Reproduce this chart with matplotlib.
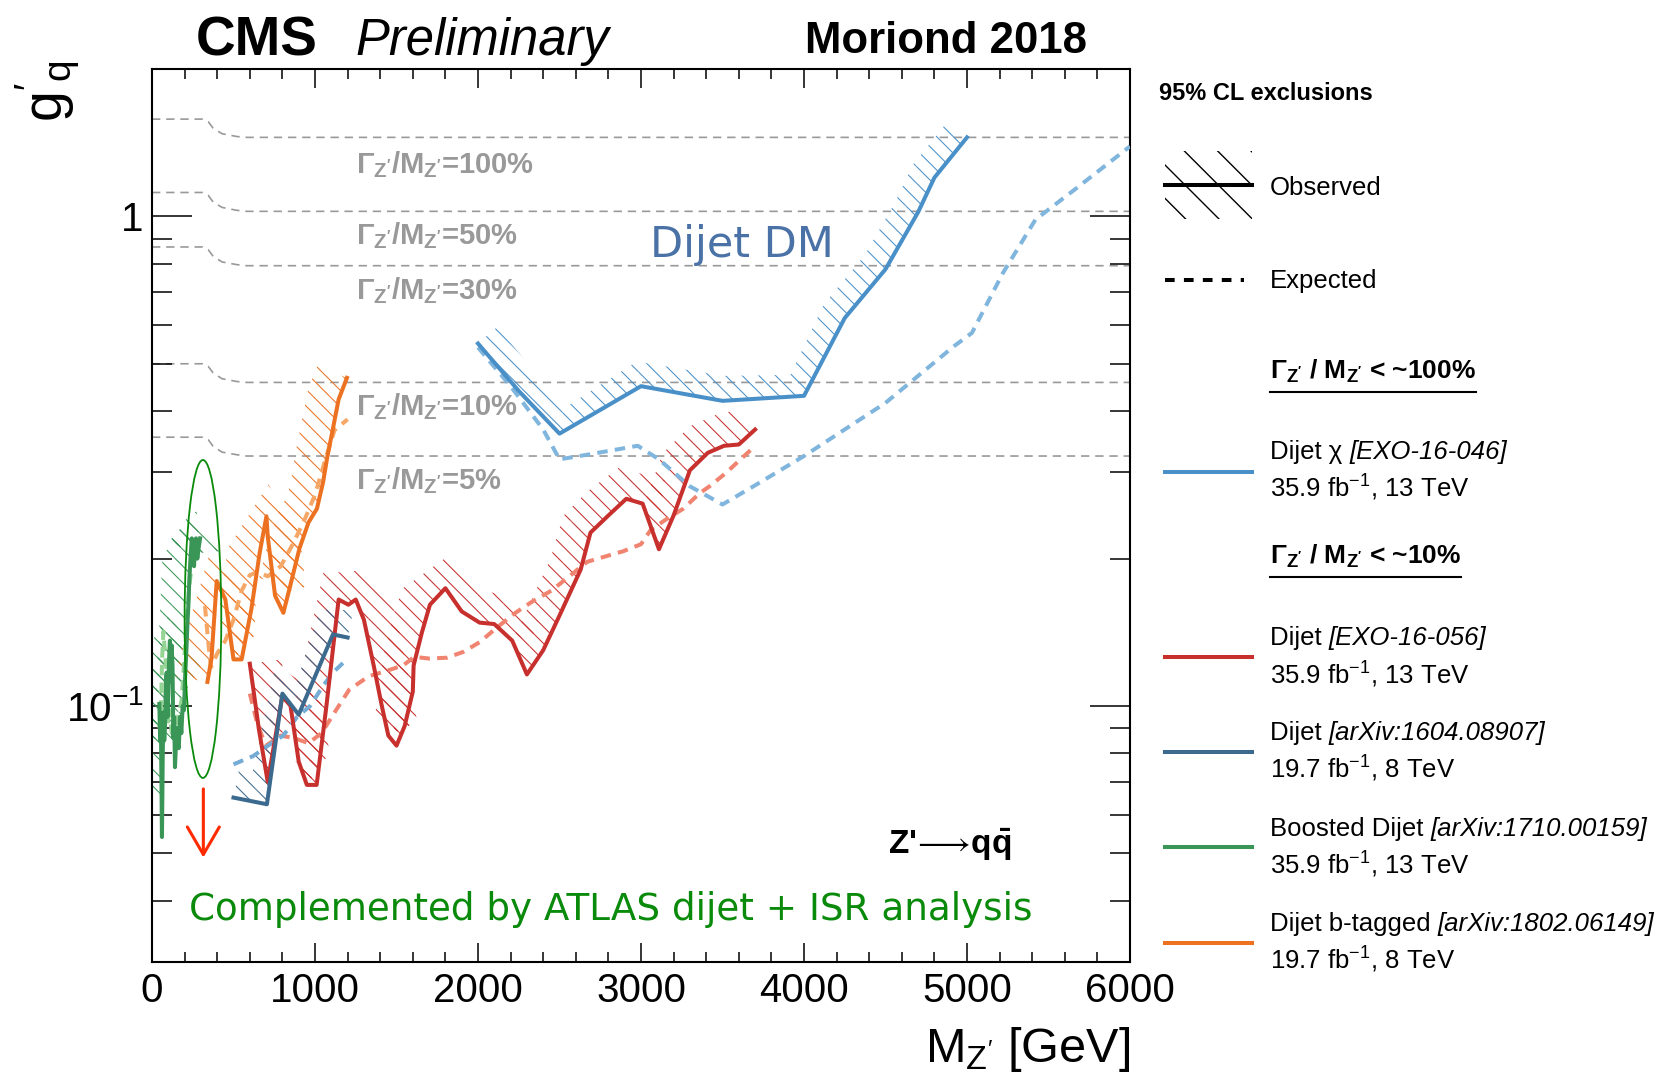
import numpy as np
import matplotlib
matplotlib.use("Agg")
import matplotlib.pyplot as plt
from matplotlib.ticker import MultipleLocator, LogLocator, NullFormatter
from matplotlib.collections import PolyCollection
from matplotlib.patches import Ellipse, Rectangle
from matplotlib.lines import Line2D

plt.rcParams["font.family"] = ["Liberation Sans", "DejaVu Sans"]
plt.rcParams["mathtext.fontset"] = "custom"
plt.rcParams["mathtext.rm"] = "Liberation Sans"
plt.rcParams["mathtext.it"] = "Liberation Sans:italic"
plt.rcParams["mathtext.bf"] = "Liberation Sans:bold"
plt.rcParams["mathtext.default"] = "regular"
plt.rcParams["hatch.linewidth"] = 0.75

W, H = 1660, 1077

# ---- width reference lines (Gamma/M)
width_m = [0, 310, 345, 375, 430, 520, 580, 6000]
width_100 = [1.58, 1.58, 1.561, 1.514, 1.475, 1.456, 1.45, 1.45]
width_50 = [1.119, 1.119, 1.104, 1.070, 1.043, 1.029, 1.024, 1.024]
width_30 = [0.866, 0.866, 0.855, 0.829, 0.807, 0.797, 0.793, 0.793]
width_10 = [0.50, 0.50, 0.494, 0.479, 0.466, 0.460, 0.458, 0.458]
width_5 = [0.354, 0.354, 0.350, 0.339, 0.330, 0.326, 0.324, 0.324]
width_names = ["100%", "50%", "30%", "10%", "5%"]

# ---- Dijet chi [EXO-16-046]
chi_obs_m = [2000, 2250, 2500, 3000, 3500, 4000, 4250, 4500, 4700, 4800, 5000]
chi_obs_g = [0.55, 0.44, 0.36, 0.45, 0.42, 0.43, 0.62, 0.78, 1.02, 1.20, 1.45]
chi_exp_m = [2000, 2200, 2400, 2500, 2670, 2980, 3110, 3300, 3500, 3690, 4000,
             4500, 4920, 5030, 5220, 5420, 5660, 6000]
chi_exp_g = [0.54, 0.45, 0.367, 0.319, 0.326, 0.34, 0.319, 0.281, 0.258, 0.281, 0.324,
             0.416, 0.543, 0.578, 0.766, 0.985, 1.134, 1.39]

# ---- Dijet [EXO-16-056]
dj13_obs_m = [600, 655, 710, 800, 850, 900, 950, 1010, 1070, 1145, 1205, 1250, 1300,
              1360, 1410, 1450, 1500, 1550, 1600, 1605, 1655, 1705, 1800, 1900, 2010,
              2100, 2210, 2300, 2400, 2500, 2630, 2690, 2800, 2910, 3010, 3110, 3200,
              3300, 3410, 3510, 3600, 3700]
dj13_obs_g = [0.122, 0.090, 0.070, 0.105, 0.100, 0.077, 0.069, 0.069, 0.100, 0.165,
              0.161, 0.165, 0.150, 0.121, 0.100, 0.087, 0.083, 0.091, 0.107, 0.121,
              0.141, 0.161, 0.174, 0.156, 0.148, 0.147, 0.136, 0.116, 0.130, 0.153,
              0.190, 0.226, 0.245, 0.265, 0.259, 0.209, 0.245, 0.303, 0.329, 0.340,
              0.342, 0.367]
dj13_exp_m = [600, 650, 700, 790, 870, 960, 1040, 1120, 1210, 1330, 1440, 1540, 1610,
              1700, 1810, 1910, 2010, 2120, 2230, 2340, 2450, 2560, 2670, 2780, 2890,
              3000, 3060, 3150, 3260, 3360, 3420, 3520, 3680]
dj13_exp_g = [0.106, 0.091, 0.083, 0.087, 0.086, 0.084, 0.088, 0.097, 0.108, 0.115,
              0.118, 0.121, 0.126, 0.125, 0.1255, 0.129, 0.135, 0.145, 0.155, 0.164,
              0.172, 0.184, 0.197, 0.202, 0.207, 0.214, 0.229, 0.240, 0.253, 0.272,
              0.281, 0.299, 0.335]

# ---- Dijet 8 TeV [arXiv:1604.08907]
dj8_obs_m = [500, 705, 800, 900, 1110, 1200]
dj8_obs_g = [0.065, 0.063, 0.106, 0.096, 0.140, 0.138]
dj8_exp_m = [500, 620, 735, 805, 890, 970, 1050, 1110, 1200]
dj8_exp_g = [0.076, 0.079, 0.084, 0.087, 0.095, 0.100, 0.110, 0.117, 0.125]

# ---- Boosted dijet [arXiv:1710.00159]
boost_obs_m = [45, 50, 55, 61, 66, 70, 75, 80, 85, 90, 95, 100, 105, 110, 115, 121,
               126, 131, 136, 141, 148, 156, 164, 172, 180, 188, 196, 203, 210, 217,
               223, 229, 236, 244, 251, 258, 264, 270, 278, 285, 295]
boost_obs_g = [0.101, 0.085, 0.090, 0.054, 0.080, 0.097, 0.085, 0.091, 0.112, 0.117,
               0.095, 0.107, 0.125, 0.136, 0.112, 0.133, 0.120, 0.086, 0.095, 0.075,
               0.085, 0.090, 0.082, 0.095, 0.088, 0.100, 0.098, 0.114, 0.128, 0.146,
               0.160, 0.181, 0.200, 0.220, 0.205, 0.193, 0.212, 0.220, 0.200, 0.209,
               0.220]
boost_exp_m = [45, 55, 62, 70, 80, 90, 100, 110, 121, 135, 151, 167, 182, 193, 203,
               213, 223, 233, 248, 264, 280, 295]
boost_exp_g = [0.090, 0.098, 0.125, 0.142, 0.128, 0.117, 0.093, 0.098, 0.088, 0.090,
               0.093, 0.097, 0.103, 0.117, 0.132, 0.150, 0.165, 0.181, 0.197, 0.210,
               0.214, 0.220]

# ---- Dijet b-tagged [arXiv:1802.06149]
btag_obs_m = [340, 365, 397, 450, 500, 550, 610, 660, 702, 710, 755, 806, 848, 905,
              960, 1012, 1050, 1075, 1113, 1145, 1196]
btag_obs_g = [0.112, 0.125, 0.180, 0.165, 0.1245, 0.1245, 0.158, 0.205, 0.244, 0.222,
              0.168, 0.155, 0.176, 0.210, 0.237, 0.253, 0.287, 0.322, 0.373, 0.423,
              0.468]
btag_exp_m = [325, 345, 362, 400, 450, 500, 550, 600, 650, 710, 790, 870, 945, 1000,
              1065, 1120, 1200]
btag_exp_g = [0.160, 0.135, 0.120, 0.128, 0.136, 0.150, 0.172, 0.185, 0.188, 0.184,
              0.193, 0.216, 0.244, 0.270, 0.320, 0.366, 0.385]

c_chi, c_chi_e = "#4a90c8", "#80b6dd"
c_13, c_13_e = "#c8302e", "#f08470"
c_8, c_8_e = "#3b6a8e", "#74acd6"
c_bo, c_bo_e = "#3a9656", "#94d494"
c_bt, c_bt_e = "#ec7222", "#f6a765"


def hatch_band(ax, x, y, width, color):
    # ROOT style hatched band on the excluded (upper-left) side of a curve
    pts = ax.transData.transform(np.column_stack([x, y]))
    d = np.diff(pts, axis=0)
    n = np.column_stack([-d[:, 1], d[:, 0]])
    n /= np.hypot(n[:, 0], n[:, 1])[:, None]
    vn = np.vstack([n[:1], n[:-1] + n[1:], n[-1:]])
    vn /= np.hypot(vn[:, 0], vn[:, 1])[:, None]
    off = pts + vn * width
    inv = ax.transData.inverted()
    quads = []
    for i in range(len(pts) - 1):
        q = np.array([pts[i], pts[i + 1], off[i + 1], off[i]])
        quads.append(inv.transform(q))
    pc = PolyCollection(quads, facecolor="none", edgecolor=color,
                        linewidth=0, hatch="\\\\", zorder=2)
    ax.add_collection(pc)


fig = plt.figure(figsize=(W / 100, H / 100), dpi=100)
ax = fig.add_axes([152 / W, 1 - 962 / H, 978 / W, 893 / H])
ax.set_xlim(0, 6000)
ax.set_yscale("log")
ax.set_ylim(0.03, 2.0)

ax.xaxis.set_major_locator(MultipleLocator(1000))
ax.xaxis.set_minor_locator(MultipleLocator(200))
ax.set_yticks([0.1, 1])
ax.set_yticklabels([r"$10^{-1}$", "1"])
ax.yaxis.set_minor_locator(LogLocator(base=10, subs=np.arange(2, 10)))
ax.yaxis.set_minor_formatter(NullFormatter())
ax.tick_params(which="both", direction="in", top=True, right=True, width=1.1,
               labelsize=29)
ax.tick_params(axis="x", which="major", length=14, pad=7)
ax.tick_params(axis="x", which="minor", length=7)
ax.tick_params(axis="y", which="major", length=29, pad=6)
ax.tick_params(axis="y", which="minor", length=14.5)
for s in ax.spines.values():
    s.set_linewidth(1.5)

# width lines + labels
width_lines = [width_100, width_50, width_30, width_10, width_5]
label_y = [1.226, 0.876, 0.676, 0.392, 0.277]
for gv, name, ly in zip(width_lines, width_names, label_y):
    ax.plot(width_m, gv, color="#999999", lw=1.2, ls=(0, (5, 3.5)), zorder=1)
    ax.text(1250, ly, "Γ$_{Z'}$/M$_{Z'}$=" + name, color="#999999", fontsize=21,
            fontweight="bold", va="baseline", ha="left", zorder=1)

series = [
    (chi_obs_m, chi_obs_g, chi_exp_m, chi_exp_g, c_chi, c_chi_e, 25),
    (dj13_obs_m, dj13_obs_g, dj13_exp_m, dj13_exp_g, c_13, c_13_e, 32),
    (boost_obs_m, boost_obs_g, boost_exp_m, boost_exp_g, c_bo, c_bo_e, 28),
    (btag_obs_m, btag_obs_g, btag_exp_m, btag_exp_g, c_bt, c_bt_e, 32),
    (dj8_obs_m, dj8_obs_g, dj8_exp_m, dj8_exp_g, c_8, c_8_e, 28),
]
for mo, go, me, ge, co, ce, bw in series:
    hatch_band(ax, mo, go, bw, co)
    ax.plot(me, ge, color=ce, lw=2.9, ls=(0, (2.6, 1.8)), zorder=3)
for mo, go, me, ge, co, ce, bw in series:
    ax.plot(mo, go, color=co, lw=2.9, zorder=4)

# green ellipse around boosted result and arrow
p0 = ax.transAxes.inverted().transform(ax.transData.transform((200, 0.0713)))
p1 = ax.transAxes.inverted().transform(ax.transData.transform((425, 0.318)))
ax.add_patch(Ellipse(((p0[0] + p1[0]) / 2, (p0[1] + p1[1]) / 2), p1[0] - p0[0],
                     p1[1] - p0[1], transform=ax.transAxes, fill=False,
                     ec="#0a8a0a", lw=1.3, zorder=5))
ax.annotate("", xy=(315, 0.0484), xytext=(315, 0.0686),
            arrowprops=dict(arrowstyle="->,head_length=0.55,head_width=0.32",
                            color="#ff2a00", lw=2.2, mutation_scale=36))

ax.text(224, 0.0365, "Complemented by ATLAS dijet + ISR analysis", color="#0a8a0a",
        fontsize=26.8, family="DejaVu Sans", va="baseline")
ax.text(3058, 0.827, "Dijet DM", color="#4a72a6", fontsize=31, family="DejaVu Sans",
        va="baseline")
ax.text(4514, 0.0498, r"Z'$\!\longrightarrow\!$q$\mathbf{\bar{q}}$", fontsize=24,
        fontweight="bold", va="baseline")

# header texts
fig.text(196 / W, 1 - 55 / H, "CMS", fontsize=39.5, fontweight="bold", va="baseline")
fig.text(355 / W, 1 - 55 / H, "Preliminary", fontsize=36.5, style="italic",
         va="baseline")
fig.text(805 / W, 1 - 53 / H, "Moriond 2018", fontsize=31.5, fontweight="bold",
         va="baseline")
fig.text(48 / W, 1 - 60 / H, r"$g'_{q}$", fontsize=40, rotation=90, ha="center",
         va="top")
fig.text(1130 / W, 1 - 1062 / H, r"M$_{Z'}$ [GeV]", fontsize=35, ha="right",
         va="baseline")


# legend block (outside the frame)
def P(x, y):
    return x / W, 1 - y / H


fig.text(*P(1159, 100), "95% CL exclusions", fontsize=17, fontweight="bold",
         va="baseline")
plt.rcParams["hatch.linewidth"] = 1.0
x0, y0 = P(1165, 219)
x1, y1 = P(1252, 151)
fig.add_artist(Rectangle((x0, y0), x1 - x0, y1 - y0, transform=fig.transFigure,
                         fill=False, hatch="\\", ec="black", lw=0))
fig.add_artist(Line2D([x0, x1], [P(0, 185)[1]] * 2, transform=fig.transFigure,
                      color="black", lw=2.9))
fig.text(*P(1270, 195), "Observed", fontsize=18.5, va="baseline")
fig.add_artist(Line2D([P(1165, 0)[0], P(1244, 0)[0]], [P(0, 280)[1]] * 2,
                      transform=fig.transFigure, color="black", lw=2.9,
                      ls=(0, (2.4, 2.3))))
fig.text(*P(1270, 288), "Expected", fontsize=18.5, va="baseline")

headers = [("Γ$_{Z'}$ / M$_{Z'}$ < ~100%", 379, 392),
           ("Γ$_{Z'}$ / M$_{Z'}$ < ~10%", 563.6, 576.5)]
head_txt = []
for txt, yb, yu in headers:
    t = fig.text(*P(1270, yb), txt, fontsize=19, fontweight="bold", va="baseline")
    head_txt.append((t, yu))

entries = [
    ("Dijet χ ", "[EXO-16-046]", "35.9 fb$^{-1}$, 13 TeV", 459, 497.5, 471.5, c_chi),
    ("Dijet ", "[EXO-16-056]", "35.9 fb$^{-1}$, 13 TeV", 645.4, 683.6, 656.5, c_13),
    ("Dijet ", "[arXiv:1604.08907]", "19.7 fb$^{-1}$, 8 TeV", 740, 778, 752, c_8),
    ("Boosted Dijet ", "[arXiv:1710.00159]", "35.9 fb$^{-1}$, 13 TeV", 835.6, 873.8,
     847.4, c_bo),
    ("Dijet b-tagged ", "[arXiv:1802.06149]", "19.7 fb$^{-1}$, 8 TeV", 931, 969, 943,
     c_bt),
]
for a, b, c, ya, yc, yl, col in entries:
    t1 = fig.text(*P(1270, ya), a, fontsize=18.5, va="baseline")
    ax.annotate(b, xy=(1, 0), xycoords=t1, ha="left", va="bottom", fontsize=18.5,
                style="italic", annotation_clip=False)
    fig.text(*P(1270, yc), c, fontsize=18.5, va="baseline")
    fig.add_artist(Line2D([P(1165, 0)[0], P(1252, 0)[0]], [P(0, yl)[1]] * 2,
                          transform=fig.transFigure, color=col, lw=2.9))

fig.canvas.draw()
r = fig.canvas.get_renderer()
for t, yu in head_txt:
    bb = t.get_window_extent(r)
    fig.add_artist(Line2D([bb.x0 / W, bb.x1 / W], [P(0, yu)[1]] * 2,
                          transform=fig.transFigure, color="black", lw=1.5))

fig.savefig("out.png", dpi=100)
